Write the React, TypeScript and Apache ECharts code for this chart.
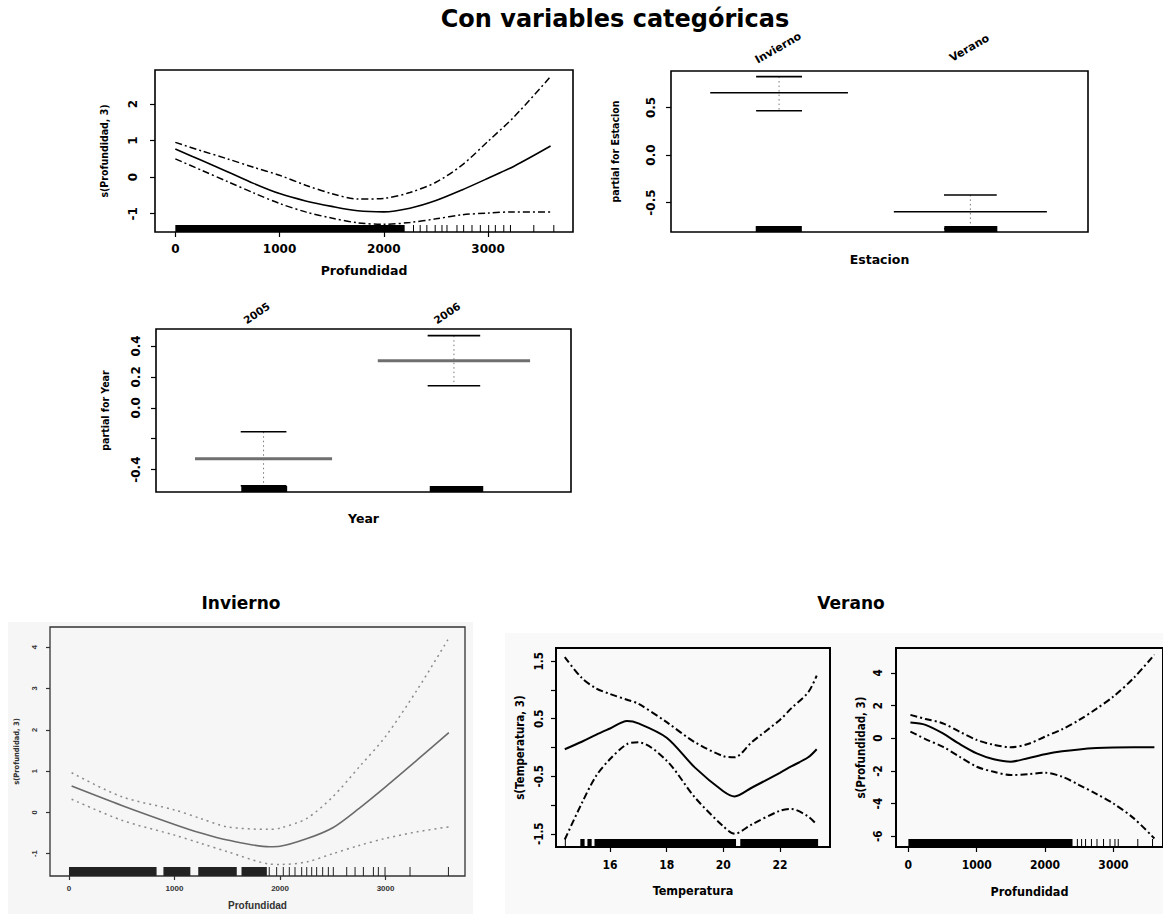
import React, { useEffect, useRef } from "react";
import * as echarts from "echarts";

// ---- Profundidad, todos los datos ----
const profTodosX = [0, 250, 500, 750, 1000, 1250, 1500, 1750, 2000, 2250, 2500, 2750, 3000, 3250, 3600];
const profTodosFit = [0.77, 0.46, 0.15, -0.17, -0.45, -0.65, -0.8, -0.92, -0.95, -0.85, -0.64, -0.35, -0.03, 0.3, 0.85];
const profTodosUpper = [0.95, 0.72, 0.5, 0.27, 0.05, -0.22, -0.45, -0.6, -0.58, -0.42, -0.14, 0.33, 0.98, 1.65, 2.75];
const profTodosLower = [0.5, 0.19, -0.12, -0.43, -0.72, -0.95, -1.12, -1.25, -1.29, -1.24, -1.14, -1.03, -0.98, -0.95, -0.95];
const profTodosRugDense = [[0, 2200]];
const profTodosRugTicks = [2285, 2349, 2413, 2493, 2558, 2606, 2702, 2766, 2846, 2926, 3006, 3070, 3151, 3215, 3439, 3631];

// ---- Estacion ----
const estaciones = ["Invierno", "Verano"];
const estacionMean = [0.655, -0.597];
const estacionUpper = [0.825, -0.42];
const estacionLower = [0.465, -0.775];
const estacionRug = [[0.878, 1.119], [1.864, 2.141]];

// ---- Year ----
const years = ["2005", "2006"];
const yearMean = [-0.33, 0.305];
const yearUpper = [-0.155, 0.467];
const yearLower = [-0.505, 0.143];
const yearRug = [[0.883, 1.124], [1.873, 2.154]];

// ---- Invierno: Profundidad ----
const invX = [25, 500, 1000, 1250, 1500, 1900, 2000, 2250, 2500, 2750, 3000, 3300, 3600];
const invFit = [0.64, 0.17, -0.29, -0.5, -0.67, -0.83, -0.82, -0.64, -0.37, 0.1, 0.62, 1.27, 1.93];
const invUpper = [0.96, 0.38, 0.06, -0.15, -0.35, -0.41, -0.38, -0.15, 0.38, 1.1, 1.84, 2.97, 4.22];
const invLower = [0.32, -0.19, -0.55, -0.75, -0.95, -1.25, -1.26, -1.2, -1.0, -0.8, -0.63, -0.47, -0.35];
const invRugDense = [[0, 830], [895, 1150], [1225, 1590], [1635, 1875]];
const invRugTicks = [1898, 1968, 2031, 2088, 2142, 2205, 2253, 2300, 2347, 2404, 2458, 2505, 2632, 2711, 2790, 2885, 2932, 2995, 3232, 3596];

// ---- Verano: Temperatura ----
const temX = [14.4, 15, 15.5, 16, 16.6, 17, 18, 19, 20, 20.4, 21, 22, 22.4, 23, 23.3];
const temFit = [-0.03, 0.1, 0.22, 0.33, 0.46, 0.42, 0.17, -0.35, -0.76, -0.85, -0.7, -0.44, -0.33, -0.17, -0.03];
const temUpper = [1.57, 1.21, 1.03, 0.93, 0.83, 0.76, 0.44, 0.09, -0.15, -0.17, 0.09, 0.48, 0.68, 0.96, 1.25];
const temLower = [-1.6, -0.97, -0.5, -0.2, 0.06, 0.09, -0.23, -0.87, -1.37, -1.5, -1.34, -1.1, -1.07, -1.2, -1.34];
const temRugDense = [[14.95, 15.1], [15.2, 15.35], [15.45, 20.45], [20.6, 23.35]];
const temRugTicks = [14.42];

// ---- Verano: Profundidad ----
const verX = [30, 250, 500, 750, 1000, 1250, 1500, 1750, 2000, 2250, 2500, 2750, 3000, 3300, 3600];
const verFit = [0.96, 0.82, 0.31, -0.35, -0.92, -1.28, -1.43, -1.22, -0.98, -0.8, -0.68, -0.6, -0.56, -0.55, -0.55];
const verUpper = [1.43, 1.18, 0.92, 0.4, -0.1, -0.4, -0.55, -0.35, 0.1, 0.55, 1.12, 1.8, 2.55, 3.7, 5.11];
const verLower = [0.41, -0.05, -0.51, -1.13, -1.74, -2.05, -2.25, -2.2, -2.11, -2.35, -2.86, -3.4, -3.99, -4.9, -6.13];
const verRugDense = [[0, 2402]];
const verRugTicks = [2473, 2535, 2593, 2679, 2760, 2856, 2951, 3023, 3071, 3357, 3573];

// ---- tick positions ----
const profTicks = [0, 1000, 2000, 3000];
const profTodosYTicks = [-1, 0, 1, 2];
const estacionYTicks = [-0.5, 0, 0.5];
const yearYTicks = [-0.4, -0.2, 0, 0.2, 0.4];
const yearYLabels = [-0.4, 0, 0.2, 0.4];
const invYTicks = [-1, 0, 1, 2, 3, 4];
const temXTicks = [16, 18, 20, 22];
const temYTicks = [-1.5, -1, -0.5, 0, 0.5, 1, 1.5];
const temYLabels = [-1.5, -0.5, 0.5, 1.5];
const verYTicks = [-6, -4, -2, 0, 2, 4];

const FONT = "'DejaVu Sans', 'Liberation Sans', sans-serif";
const FONT_COND = "'DejaVu Sans Condensed', 'DejaVu Sans', sans-serif";
const FONT_NARROW = "'Liberation Sans Narrow', 'DejaVu Sans Condensed', sans-serif";

type AxisCfg = {
  grid: number;
  min: number;
  max: number;
  ticks?: number[];
  labels?: number[];
  fmt?: (v: number) => string;
  margin?: number;
  font?: string;
  size?: number;
  name?: string;
  nameGap?: number;
  nameFont?: string;
  nameSize?: number;
  color?: string;
  tickLen?: number;
};

function axis(c: AxisCfg, isY: boolean) {
  const color = c.color ?? "#000";
  return {
    type: "value",
    gridIndex: c.grid,
    min: c.min,
    max: c.max,
    position: isY ? "left" : "bottom",
    axisLine: { show: false, onZero: false },
    splitLine: { show: false },
    axisTick: c.ticks
      ? { show: true, inside: false, length: c.tickLen ?? 5, customValues: c.ticks, lineStyle: { color, width: 1.2 } }
      : { show: false },
    axisLabel: c.ticks
      ? {
          show: true,
          customValues: c.labels ?? c.ticks,
          formatter: c.fmt ?? ((v: number) => String(v)),
          margin: c.margin ?? 10,
          rotate: isY ? 90 : 0,
          color,
          fontFamily: c.font ?? FONT,
          fontWeight: "bold",
          fontSize: c.size ?? 12,
        }
      : { show: false },
    name: c.name,
    nameLocation: "middle",
    nameGap: c.nameGap ?? 30,
    nameTextStyle: {
      color,
      fontFamily: c.nameFont ?? FONT,
      fontWeight: "bold",
      fontSize: c.nameSize ?? 12.5,
    },
  };
}

const fixed1 = (v: number) => v.toFixed(1);

function curve(xi: number, yi: number, xs: number[], ys: number[], lineStyle: any) {
  return {
    type: "line",
    xAxisIndex: xi,
    yAxisIndex: yi,
    data: xs.map((x, i) => [x, ys[i]]),
    smooth: 0.3,
    symbol: "none",
    silent: true,
    lineStyle,
    z: 3,
  };
}

function rug(xi: number, yi: number, dense: number[][], ticks: number[], h: number, color: string) {
  return {
    type: "custom",
    xAxisIndex: xi,
    yAxisIndex: yi,
    silent: true,
    z: 4,
    data: [...dense, ...ticks.map((t) => [t, t])],
    renderItem: (params: any, api: any) => {
      const cs = params.coordSys;
      const bottom = cs.y + cs.height;
      const a = api.coord([api.value(0), 0])[0];
      const b = api.coord([api.value(1), 0])[0];
      if (b - a < 1.5) {
        return { type: "line", shape: { x1: a, y1: bottom, x2: a, y2: bottom - h }, style: { stroke: color, lineWidth: 1 } };
      }
      return { type: "rect", shape: { x: a, y: bottom - h, width: b - a, height: h }, style: { fill: color } };
    },
  };
}

// horizontal segments [x1, x2, y]
function segments(xi: number, yi: number, data: number[][], color: string, width: number) {
  return {
    type: "custom",
    xAxisIndex: xi,
    yAxisIndex: yi,
    silent: true,
    z: 3,
    data,
    renderItem: (_p: any, api: any) => {
      const p1 = api.coord([api.value(0), api.value(2)]);
      const p2 = api.coord([api.value(1), api.value(2)]);
      return { type: "line", shape: { x1: p1[0], y1: p1[1], x2: p2[0], y2: p2[1] }, style: { stroke: color, lineWidth: width } };
    },
  };
}

// vertical dotted connectors [x, y1, y2]
function connectors(xi: number, yi: number, data: number[][]) {
  return {
    type: "custom",
    xAxisIndex: xi,
    yAxisIndex: yi,
    silent: true,
    z: 2,
    data,
    renderItem: (_p: any, api: any) => {
      const p1 = api.coord([api.value(0), api.value(1)]);
      const p2 = api.coord([api.value(0), api.value(2)]);
      return {
        type: "line",
        shape: { x1: p1[0], y1: p1[1], x2: p2[0], y2: p2[1] },
        style: { stroke: "#777", lineWidth: 1, lineDash: [1.5, 3] },
      };
    },
  };
}

// rotated level names above the plot box
function levelNames(xi: number, yi: number, names: string[], rotDeg: number, lift: number, dx: number, size: number) {
  return {
    type: "custom",
    xAxisIndex: xi,
    yAxisIndex: yi,
    silent: true,
    z: 5,
    clip: false,
    data: names.map((_, i) => [i + 1, 0]),
    renderItem: (params: any, api: any) => {
      const cs = params.coordSys;
      const x = api.coord([api.value(0), 0])[0] + dx;
      return {
        type: "text",
        x,
        y: cs.y - lift,
        rotation: (rotDeg * Math.PI) / 180,
        style: {
          text: names[params.dataIndex],
          fill: "#000",
          font: `bold ${size}px ${FONT}`,
          align: "center",
          verticalAlign: "middle",
        },
      };
    },
  };
}

const halfMean = [0.36, 0.4];
const halfSe = [0.12, 0.138];

function factorSeries(xi: number, yi: number, mean: number[], upper: number[], lower: number[], rugs: number[][], meanColor: string, meanWidth: number) {
  const pos = mean.map((_, i) => i + 1);
  return [
    segments(xi, yi, pos.map((p, i) => [p - halfMean[i], p + halfMean[i], mean[i]]), meanColor, meanWidth),
    segments(
      xi,
      yi,
      [
        ...pos.map((p, i) => [p - halfSe[i], p + halfSe[i], upper[i]]),
        ...pos.map((p, i) => [p - halfSe[i], p + halfSe[i], lower[i]]),
      ],
      "#000",
      1.6
    ),
    connectors(xi, yi, pos.map((p, i) => [p, upper[i], lower[i]])),
    rug(xi, yi, rugs, [], 6, "#000"),
  ];
}

const solid = (color: string, width: number) => ({ color, width, type: "solid" });
const dashDot = (color: string, width: number) => ({ color, width, type: [7, 3, 2, 3] });

export default function App() {
  const ref = useRef<HTMLDivElement>(null);

  useEffect(() => {
    if (!ref.current) return;
    const chart = echarts.init(ref.current, null, { renderer: "svg" });
    const border = { show: true, borderColor: "#000", borderWidth: 1.6, backgroundColor: "transparent" };

    const option: any = {
      animation: false,
      backgroundColor: "#fff",
      grid: [
        { left: 155, top: 70, width: 418, height: 162, ...border },
        { left: 671, top: 71, width: 417, height: 161, ...border },
        { left: 156, top: 329, width: 415, height: 163, ...border },
        { left: 50, top: 627, width: 415, height: 249, ...border, borderColor: "#333", borderWidth: 1.3 },
        { left: 556, top: 648, width: 274, height: 199, ...border, borderWidth: 2 },
        { left: 896, top: 648, width: 273, height: 199, ...border, borderWidth: 2 },
      ],
      xAxis: [
        axis({ grid: 0, min: -195, max: 3815, ticks: profTicks, margin: 11, name: "Profundidad", nameGap: 32 }, false),
        axis({ grid: 1, min: 0.435, max: 2.615, name: "Estacion", nameGap: 21 }, false),
        axis({ grid: 2, min: 0.435, max: 2.615, name: "Year", nameGap: 20 }, false),
        axis(
          {
            grid: 3, min: -180, max: 3753, ticks: profTicks, margin: 8, size: 8, color: "#333", tickLen: 4,
            font: "'Liberation Sans', sans-serif", name: "Profundidad", nameGap: 24, nameSize: 10,
            nameFont: "'Liberation Sans', sans-serif",
          },
          false
        ),
        axis({ grid: 4, min: 14.09, max: 23.77, ticks: temXTicks, margin: 12, font: FONT_NARROW, size: 12, name: "Temperatura", nameGap: 37, nameFont: FONT_NARROW, nameSize: 12.5 }, false),
        axis({ grid: 5, min: -181, max: 3726, ticks: profTicks, margin: 12, font: FONT_NARROW, size: 12, name: "Profundidad", nameGap: 38, nameFont: FONT_NARROW, nameSize: 12.5 }, false),
      ],
      yAxis: [
        axis({ grid: 0, min: -1.5, max: 2.93, ticks: profTodosYTicks, margin: 16, name: "s(Profundidad, 3)", nameGap: 46, nameFont: FONT_COND, nameSize: 10.5 }, true),
        axis({ grid: 1, min: -0.81, max: 0.884, ticks: estacionYTicks, fmt: fixed1, margin: 14, name: "partial for Estacion", nameGap: 51, nameFont: FONT_COND, nameSize: 10.5 }, true),
        axis({ grid: 2, min: -0.545, max: 0.51, ticks: yearYTicks, labels: yearYLabels, fmt: fixed1, margin: 14, name: "partial for Year", nameGap: 46, nameFont: FONT_COND, nameSize: 10.5 }, true),
        axis(
          {
            grid: 3, min: -1.54, max: 4.49, ticks: invYTicks, margin: 12, size: 7.5, color: "#333", tickLen: 4,
            font: "'Liberation Sans', sans-serif", name: "s(Profundidad, 3)", nameGap: 30, nameSize: 7.5, nameFont: FONT_COND,
          },
          true
        ),
        axis({ grid: 4, min: -1.73, max: 1.73, ticks: temYTicks, labels: temYLabels, fmt: fixed1, margin: 11, font: FONT_NARROW, size: 11.5, name: "s(Temperatura, 3)", nameGap: 30, nameFont: FONT_NARROW, nameSize: 11.5 }, true),
        axis({ grid: 5, min: -6.65, max: 5.52, ticks: verYTicks, margin: 12, font: FONT_NARROW, size: 11.5, name: "s(Profundidad, 3)", nameGap: 29, nameFont: FONT_NARROW, nameSize: 11.5 }, true),
      ],
      series: [
        // Profundidad (todos)
        curve(0, 0, profTodosX, profTodosFit, solid("#000", 1.6)),
        curve(0, 0, profTodosX, profTodosUpper, dashDot("#000", 1.5)),
        curve(0, 0, profTodosX, profTodosLower, dashDot("#000", 1.5)),
        rug(0, 0, profTodosRugDense, profTodosRugTicks, 7, "#000"),
        // Estacion
        ...factorSeries(1, 1, estacionMean, estacionUpper, estacionLower, estacionRug, "#000", 1.6),
        levelNames(1, 1, estaciones, 30, 23, -1, 11),
        // Year
        ...factorSeries(2, 2, yearMean, yearUpper, yearLower, yearRug, "#6f6f6f", 3),
        levelNames(2, 2, years, 34, 16, -7, 10.5),
        // Invierno
        curve(3, 3, invX, invFit, solid("#6a6a6a", 1.6)),
        curve(3, 3, invX, invUpper, { color: "#8a8a8a", width: 1.5, type: [2, 4] }),
        curve(3, 3, invX, invLower, { color: "#8a8a8a", width: 1.5, type: [2, 4] }),
        rug(3, 3, invRugDense, invRugTicks, 9, "#222"),
        // Verano: Temperatura
        curve(4, 4, temX, temFit, solid("#000", 2)),
        curve(4, 4, temX, temUpper, dashDot("#000", 2)),
        curve(4, 4, temX, temLower, dashDot("#000", 2)),
        rug(4, 4, temRugDense, temRugTicks, 8, "#000"),
        // Verano: Profundidad
        curve(5, 5, verX, verFit, solid("#000", 2)),
        curve(5, 5, verX, verUpper, dashDot("#000", 2)),
        curve(5, 5, verX, verLower, dashDot("#000", 2)),
        rug(5, 5, verRugDense, verRugTicks, 8, "#000"),
      ],
      graphic: {
        elements: [
          { type: "rect", z: -100, shape: { x: 8, y: 622, width: 465, height: 292 }, style: { fill: "#f6f6f6" } },
          { type: "rect", z: -100, shape: { x: 505, y: 633, width: 658, height: 281 }, style: { fill: "#f9f9f9" } },
          {
            type: "text", x: 615, y: 19,
            style: { text: "Con variables categóricas", font: `bold 24px ${FONT}`, fill: "#000", textAlign: "center", textVerticalAlign: "middle" },
          },
          {
            type: "text", x: 241, y: 603,
            style: { text: "Invierno", font: `bold 17px ${FONT}`, fill: "#000", textAlign: "center", textVerticalAlign: "middle" },
          },
          {
            type: "text", x: 851, y: 603,
            style: { text: "Verano", font: `bold 17px ${FONT}`, fill: "#000", textAlign: "center", textVerticalAlign: "middle" },
          },
        ],
      },
    };

    chart.setOption(option);
    return () => chart.dispose();
  }, []);

  return (
    <div
      ref={ref}
      style={{ position: "absolute", left: 0, top: 0, width: 1163, height: 914, background: "#fff" }}
    />
  );
}
